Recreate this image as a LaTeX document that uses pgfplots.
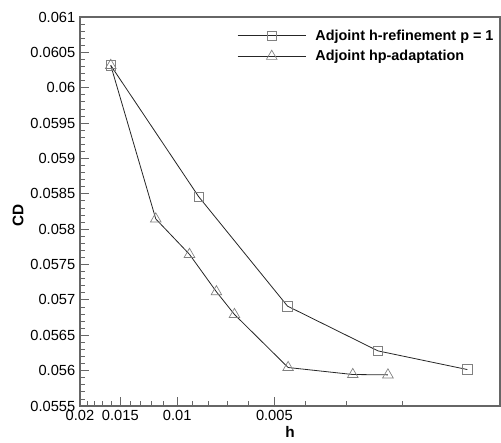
\documentclass[border=0pt]{standalone}
\usepackage{fontspec}
\setmainfont{Liberation Sans}
\usepackage{pgfplots}
\pgfplotsset{compat=1.18}

\begin{document}
\begin{tikzpicture}
\begin{axis}[
width=315pt,
height=291.75pt,
scale only axis,
xmode=log,
x dir=reverse,
xmin=0.001, xmax=0.02,
ymin=0.0555, ymax=0.061,
scaled y ticks=false,
xtick={0.02,0.015,0.01,0.005},
xticklabels={0.02,0.015,0.01,0.005},
minor xtick={0.019,0.018,0.017,0.016,0.014,0.013,0.012,0.011,0.009,0.008,0.007,0.006,0.004,0.003,0.002},
ytick={0.0555,0.056,0.0565,0.057,0.0575,0.058,0.0585,0.059,0.0595,0.06,0.0605,0.061},
yticklabels={0.0555,0.056,0.0565,0.057,0.0575,0.058,0.0585,0.059,0.0595,0.06,0.0605,0.061},
minor y tick num=4,
xtick pos=bottom,
ytick pos=left,
major tick length=6.75pt,
minor tick length=3.75pt,
tick style={black!60, line width=0.6pt},
axis line style={black!60, line width=1.1pt},
/pgf/number format/assume math mode=true,
tick label style={font=\fontsize{11}{13}\selectfont},
xlabel={h},
ylabel={CD},
label style={font=\fontsize{11.5}{13}\selectfont\bfseries},
xlabel style={at={(axis description cs:0.5,0)}, anchor=center, yshift=-19.5pt},
ylabel style={at={(axis description cs:0,0.49)}, anchor=center, yshift=46.5pt},
legend style={draw=none, fill=none, at={(axis description cs:0.374,0.975)}, anchor=north west,
  font=\fontsize{10.8}{13}\selectfont\bfseries, inner sep=0pt, row sep=2pt,
  /tikz/every odd column/.append style={column sep=5pt}},
legend cell align=left,
legend image code/.code={\draw[mark repeat=2,mark phase=2,#1] plot coordinates {(0pt,0pt) (25.5pt,0pt) (51pt,0pt)};},
]

\addplot[black!85, line width=0.6pt, mark=square, mark size=3.6pt,
  mark options={black!50, line width=0.5pt}] coordinates {
(0.01606,0.060316) (0.00858,0.05846) (0.004552,0.056912) (0.002388,0.056279) (0.001262,0.056015)
};

\addplot[black!85, line width=0.6pt, mark=triangle, mark size=4.6pt,
  mark options={black!50, line width=0.5pt}] coordinates {
(0.01606,0.060316) (0.01165,0.058145) (0.00916,0.057644) (0.00756,0.057115)
(0.006646,0.056794) (0.004533,0.056044) (0.002858,0.055945) (0.002224,0.05594)
};

\legend{Adjoint h-refinement p = 1, Adjoint hp-adaptation}
\end{axis}
\pgfresetboundingbox
\path[use as bounding box] ([xshift=-60pt,yshift=-27.75pt]current axis.south west)
  rectangle ([xshift=0.75pt,yshift=12.75pt]current axis.north east);
\end{tikzpicture}
\end{document}
